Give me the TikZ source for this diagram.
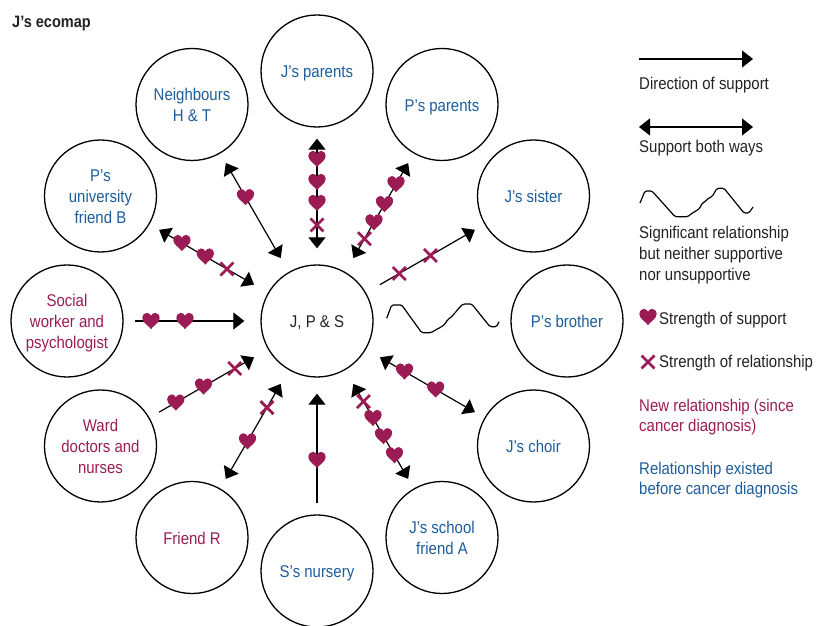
\documentclass[tikz,border=0pt]{standalone}
\usepackage{fontspec}
\setmainfont{Liberation Sans}[FakeStretch=0.88]
\usetikzlibrary{arrows.meta}
\definecolor{mag}{HTML}{9B1B55}
\definecolor{blu}{HTML}{1D5D9B}
\definecolor{txt}{HTML}{222222}
\newcommand{\lab}[1]{\raisebox{-2.5pt}[\height][\depth]{\begin{tabular}{@{}c@{}}#1\end{tabular}}}
\tikzset{
  Big/.tip={Triangle[length=11pt,width=17pt]},
  circ/.style={circle, draw, line width=1.3pt, minimum size=112pt, inner sep=0pt,
    font=\fontsize{17}{21}\selectfont, text=txt},
  oldrel/.style={circ, text=blu},
  newrel/.style={circ, text=mag},
  outlink/.style={line width=1.2pt, shorten <=16pt, shorten >=11pt, -Big},
  inlink/.style={line width=1.2pt, shorten <=11pt, shorten >=16pt, -Big},
  twolink/.style={line width=1.2pt, shorten <=16pt, shorten >=11pt, Big-Big},
  wave/.style={line width=1.2pt, rounded corners=1.5pt, line join=round},
  heart/.pic={\fill[mag, scale=1.08] (0,-7.5) .. controls (-2,-4.5) and (-8,-1.5) .. (-8,2.5)
      .. controls (-8,5.5) and (-6,7.5) .. (-4,7.5)
      .. controls (-2,7.5) and (-0.6,6.2) .. (0,4.8)
      .. controls (0.6,6.2) and (2,7.5) .. (4,7.5)
      .. controls (6,7.5) and (8,5.5) .. (8,2.5)
      .. controls (8,-1.5) and (2,-4.5) .. (0,-7.5) -- cycle;},
  cross/.pic={\draw[mag, line width=2.7pt] (-6.5,-6.5) -- (6.5,6.5) (-6.5,6.5) -- (6.5,-6.5);},
  legtxt/.style={anchor=base west, inner sep=0pt, font=\fontsize{17}{21}\selectfont, text=txt},
}
\begin{document}
\begin{tikzpicture}[x=1pt,y=1pt]
\useasboundingbox (0,0) rectangle (827,626);
\node[anchor=base west, inner sep=0pt, font=\bfseries\fontsize{16.5}{20}\selectfont, text=txt] (title) at (12,598) {J’s ecomap};

\begin{scope}[shift={(317,305)}]
\node[circ] (c) at (0,0) {\lab{J, P \& S}};
\node[oldrel] (n90) at (90:250) {\lab{J’s parents}};
\node[oldrel] (n60) at (60:250) {\lab{P’s parents}};
\node[oldrel] (n30) at (30:250) {\lab{J’s sister}};
\node[oldrel] (n0) at (0:250) {\lab{P’s brother}};
\node[oldrel] (m30) at (-30:250) {\lab{J’s choir}};
\node[oldrel] (m60) at (-60:250) {\lab{J’s school\\friend A}};
\node[oldrel] (m90) at (-90:250) {\lab{S’s nursery}};
\node[newrel] (m120) at (-120:250) {\lab{Friend R}};
\node[newrel] (m150) at (-150:250) {\lab{Ward\\doctors and\\nurses}};
\node[newrel] (n180) at (180:250) {\lab{Social\\worker and\\psychologist}};
\node[oldrel] (n150) at (150:250) {\lab{P’s\\university\\friend B}};
\node[oldrel] (n120) at (120:250) {\lab{Neighbours\\H \& T}};

\draw[twolink] (c) -- (n90);
\draw[twolink] (c) -- (n60);
\draw[outlink] (c) -- (n30);
\draw[twolink] (c) -- (m30);
\draw[twolink] (c) -- (m60);
\draw[inlink] (m90) -- (c);
\draw[twolink] (c) -- (m120);
\draw[inlink] (m150) -- (c);
\draw[inlink] (n180) -- (c);
\draw[twolink] (c) -- (n150);
\draw[twolink] (c) -- (n120);

% J's parents
\pic at (90:162) {heart}; \pic at (90:139) {heart}; \pic at (90:118) {heart}; \pic at (90:96) {cross};
% P's parents
\pic at (60:158) {heart}; \pic at (60:135) {heart}; \pic at (60:114) {heart}; \pic at (60:95) {cross};
% J's sister
\pic at (30:95) {cross}; \pic at (30:131) {cross};
% J's choir
\pic at (-30:101) {heart}; \pic at (-30:137) {heart};
% J's school friend A
\pic at (-60:93) {cross}; \pic at (-60:112) {heart}; \pic at (-60:133) {heart}; \pic at (-60:155) {heart};
% S's nursery
\pic at (-90:139) {heart};
% Friend R
\pic at (-120:100) {cross}; \pic at (-120:139) {heart};
% Ward
\pic at (-150:95) {cross}; \pic at (-150:131) {heart}; \pic at (-150:163) {heart};
% Social worker
\pic at (180:132) {heart}; \pic at (180:166) {heart};
% University friend
\pic at (150:104) {cross}; \pic at (150:129) {heart}; \pic at (150:156) {heart};
% Neighbours
\pic at (120:143) {heart};
\end{scope}

% P's brother wave
\draw[wave] (386.7,307.7) -- (391.7,321) -- (401.7,321) -- (421.7,293.3) -- (431,293.3)
  -- (436.7,296.7) -- (441.7,299.3) -- (445,302) -- (447.3,306) -- (451.7,309.3)
  -- (456,314.3) -- (460,319.3) -- (463.3,322) -- (471.7,322) -- (490,299.3)
  -- (496.7,299.3) -- (499,304.3);

% Legend
\coordinate (d1) at (639,567); \coordinate (d2) at (753,567);
\draw[line width=1.2pt,-Big] (d1) -- (d2);
\node[legtxt] (l1) at (639,536) {Direction of support};
\coordinate (b1) at (639,499); \coordinate (b2) at (753,499);
\draw[line width=1.2pt,Big-Big] (b1) -- (b2);
\node[legtxt] (l2) at (639,473) {Support both ways};
\draw[wave] (640,423) -- (645,435) -- (652,435) -- (675,409.3) -- (688,409.3)
  -- (691.7,412.7) -- (695,414.3) -- (700,418) -- (702,422.7) -- (705,424.3)
  -- (708.3,427.7) -- (712,429.3) -- (717,437.7) -- (724,437.7) -- (744,413)
  -- (749,413) -- (753,419);
\node[legtxt] (l3a) at (639,387) {Significant relationship};
\node[legtxt] (l3b) at (639,366) {but neither supportive};
\node[legtxt] (l3c) at (639,345) {nor unsupportive};
\pic at (648,309) {heart};
\node[legtxt] (l4) at (659,301) {Strength of support};
\pic at (648,264) {cross};
\node[legtxt] (l5) at (659,258) {Strength of relationship};
\node[legtxt, text=mag] (l6a) at (639,214) {New relationship (since};
\node[legtxt, text=mag] (l6b) at (639,194) {cancer diagnosis)};
\node[legtxt, text=blu] (l7a) at (639,151) {Relationship existed};
\node[legtxt, text=blu] (l7b) at (639,131) {before cancer diagnosis};
\end{tikzpicture}
\end{document}
